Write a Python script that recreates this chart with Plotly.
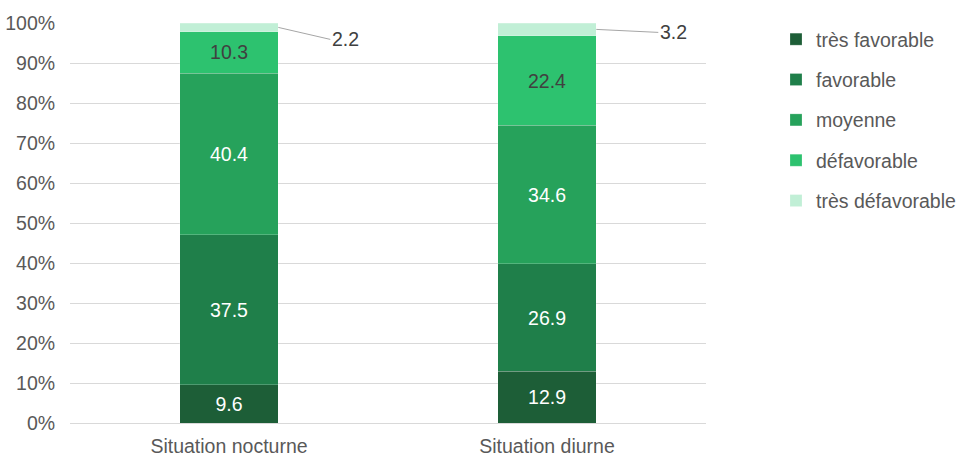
import plotly.graph_objects as go

categories = ["Situation nocturne", "Situation diurne"]
series_names = ["très favorable", "favorable", "moyenne", "défavorable", "très défavorable"]
tres_favorable = [9.6, 12.9]
favorable = [37.5, 26.9]
moyenne = [40.4, 34.6]
defavorable = [10.3, 22.4]
tres_defavorable = [2.2, 3.2]
y_ticks = [0, 10, 20, 30, 40, 50, 60, 70, 80, 90, 100]

series_values = [tres_favorable, favorable, moyenne, defavorable, tres_defavorable]
colors = ["#1D5E37", "#1F7F4A", "#26A25B", "#2DC26F", "#C1EFD6"]
text_colors = ["#FFFFFF", "#FFFFFF", "#FFFFFF", "#404040", "#404040"]
show_inside = [True, True, True, True, False]

FONT = "Liberation Sans, Arial, sans-serif"
FS = 19.5
BAR_W = 0.31

fig = go.Figure()
for i, (name, vals) in enumerate(zip(series_names, series_values)):
    fig.add_trace(go.Bar(
        x=categories, y=vals, name=name,
        marker=dict(color=colors[i], line=dict(width=0.6, color="rgba(255,255,255,0.35)")),
        width=BAR_W,
        text=[f"{v:.1f}" for v in vals] if show_inside[i] else None,
        textposition="inside" if show_inside[i] else "none",
        insidetextanchor="middle",
        textangle=0,
        constraintext="none",
        textfont=dict(family=FONT, size=FS, color=text_colors[i]),
        legendgroup=name,
        hoverinfo="skip",
    ))

# outside labels for the thin top segment, with leader lines
offsets = [(52, 12), (62, 3)]
for j, cat in enumerate(categories):
    below = sum(s[j] for s in series_values[:-1])
    v = tres_defavorable[j]
    fig.add_annotation(
        x=j + BAR_W / 2, y=below + v / 2, xref="x", yref="y",
        text=f"{v:.1f}", showarrow=True, arrowhead=0, arrowwidth=1,
        arrowcolor="#A6A6A6", ax=offsets[j][0], ay=offsets[j][1],
        xanchor="left", yanchor="middle", standoff=0,
        font=dict(family=FONT, size=FS, color="#404040"),
    )

fig.update_layout(
    barmode="stack",
    width=959, height=456,
    margin=dict(l=70, r=252.5, t=23, b=33),
    paper_bgcolor="white", plot_bgcolor="white",
    font=dict(family=FONT, size=FS, color="#595959"),
    showlegend=True,
    legend=dict(
        xref="container", yref="container",
        x=776 / 959, y=1 - 20 / 456, xanchor="left", yanchor="top",
        traceorder="grouped", tracegroupgap=12,
        font=dict(family=FONT, size=FS, color="#595959"),
        bgcolor="rgba(0,0,0,0)",
    ),
    xaxis=dict(
        type="category", showgrid=False, zeroline=False, showline=False,
        ticks="outside", ticklen=6, tickcolor="rgba(0,0,0,0)",
        tickfont=dict(family=FONT, size=FS, color="#595959"),
        range=[-0.5, 1.5], automargin=False,
    ),
    yaxis=dict(
        range=[0, 100], tickvals=y_ticks, ticktext=[f"{t}%" for t in y_ticks],
        showgrid=True, gridcolor="#D9D9D9", gridwidth=1,
        zeroline=True, zerolinecolor="#D9D9D9", zerolinewidth=1,
        showline=False, ticks="outside", ticklen=10, tickcolor="rgba(0,0,0,0)",
        tickfont=dict(family=FONT, size=FS, color="#595959"),
        automargin=False,
    ),
)

fig.write_html("out.html")
